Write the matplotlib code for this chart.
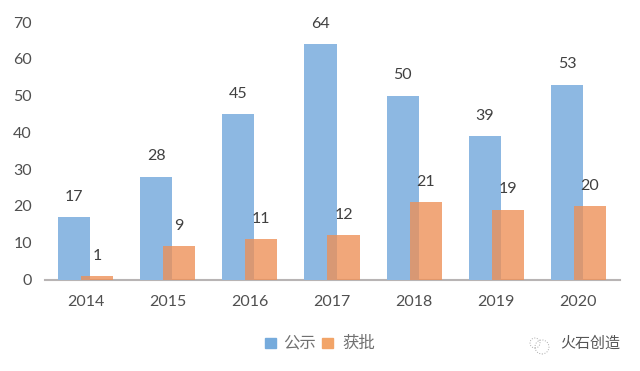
import numpy as np
import matplotlib
matplotlib.use("Agg")
import matplotlib.pyplot as plt
from matplotlib.patches import Circle

plt.rcParams['font.family'] = ['Lato', 'Noto Sans CJK SC', 'DejaVu Sans']

years = ['2014', '2015', '2016', '2017', '2018', '2019', '2020']
gongshi = [17, 28, 45, 64, 50, 39, 53]
huopi = [1, 9, 11, 12, 21, 19, 20]
y_ticks = [0, 10, 20, 30, 40, 50, 60, 70]

W, H = 640, 371
BLUE = '#8DB8E2'
ORANGE = '#EE8F55'
TEXT = '#505050'

fig = plt.figure(figsize=(W / 100, H / 100), dpi=100, facecolor='white')
ax = fig.add_axes([44.5 / W, 1 - 279.5 / H, 575 / W, 257.5 / H])

x = np.arange(len(years))
ax.bar(x - 0.14, gongshi, 0.39, color=BLUE, zorder=2)
ax.bar(x + 0.14, huopi, 0.39, color=ORANGE, alpha=0.78, zorder=3)

for xi, v in zip(x, gongshi):
    ax.annotate(str(v), (xi - 0.14, v), xytext=(0, 14.5), textcoords='offset points',
                ha='center', va='center', fontsize=11.5, color='#404040')
for xi, v in zip(x, huopi):
    ax.annotate(str(v), (xi + 0.14, v), xytext=(0, 14.5), textcoords='offset points',
                ha='center', va='center', fontsize=11.5, color='#404040')

ax.set_xlim(-0.5, 6.5)
ax.set_ylim(0, 70)
ax.set_xticks(x, years)
ax.set_yticks(y_ticks)
ax.tick_params(length=0, labelsize=11.5, labelcolor=TEXT)
ax.tick_params(axis='x', pad=11.5)
ax.tick_params(axis='y', pad=9)
for s in ['top', 'right', 'left']:
    ax.spines[s].set_visible(False)
ax.spines['bottom'].set_color('#B8B4B4')
ax.spines['bottom'].set_linewidth(1.5)
ax.spines['bottom'].set_zorder(1)

# legend by hand, the spacing is tight
fig.patches.append(plt.Rectangle((265 / W, 1 - 348 / H), 11 / W, 10 / H,
                                 transform=fig.transFigure, color='#76ABDC'))
fig.patches.append(plt.Rectangle((322 / W, 1 - 348 / H), 11 / W, 10 / H,
                                 transform=fig.transFigure, color='#F2A468'))
fig.text(299.5 / W, 1 - 343 / H, '公示', ha='center', va='center', fontsize=11.8, color='#707070')
fig.text(358.5 / W, 1 - 343 / H, '获批', ha='center', va='center', fontsize=11.8, color='#707070')

# watermark
fig.text(590 / W, 1 - 344 / H, '火石创造', ha='center', va='center', fontsize=10.8, color='#555555')
for cx, cy, r in [(535, 343, 5), (542, 347, 7)]:
    fig.patches.append(Circle((cx, H - cy), r, transform=None, fill=False,
                              ec='#AAAAAA', lw=0.7, ls=':'))

fig.savefig('out.png', dpi=100)
